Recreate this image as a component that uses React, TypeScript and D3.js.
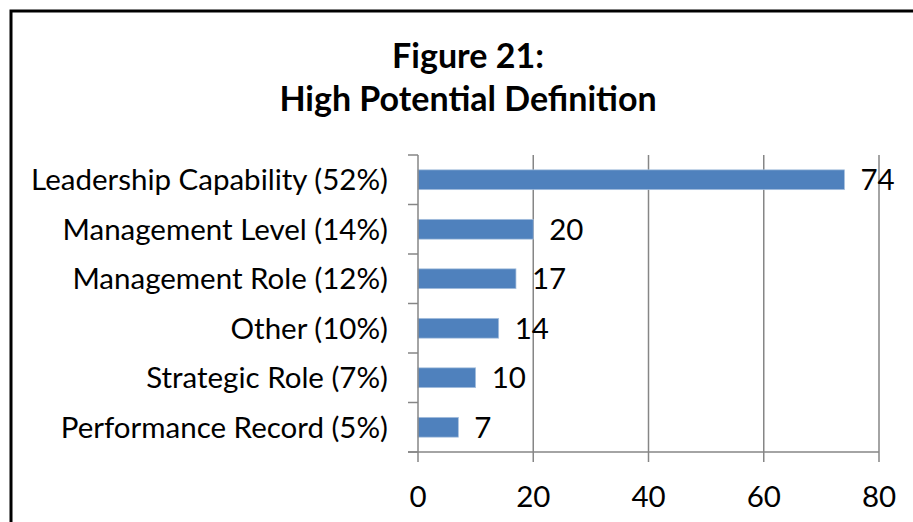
import * as d3 from "d3";

const categories = [
  "Leadership Capability (52%)",
  "Management Level (14%)",
  "Management Role (12%)",
  "Other (10%)",
  "Strategic Role (7%)",
  "Performance Record (5%)",
];
const values = [74, 20, 17, 14, 10, 7];
const xTicks = [0, 20, 40, 60, 80];
const titleLines = ["Figure 21:", "High Potential Definition"];

const W = 913;
const H = 522;
const FONT = "Lato, 'Open Sans', sans-serif";

export default function App() {
  const x = d3.scaleLinear().domain([0, 80]).range([418, 879]);
  const y = d3.scaleBand<string>().domain(categories).range([155, 452]).paddingInner(0.6).paddingOuter(0.3);
  const yEdges = d3.range(categories.length + 1).map((i) => 155 + (i * (452 - 155)) / categories.length);
  const grid = "#868686";

  return (
    <svg width={W} height={H} style={{ position: "absolute", left: 0, top: 0, background: "#fff" }} fontFamily={FONT}>
      <rect x={11} y={11} width={1000} height={1000} fill="none" stroke="#000" strokeWidth={3} />

      {titleLines.map((t, i) => (
        <text key={t} x={468} y={68 + i * 43} textAnchor="middle" fontSize={34} fontWeight="bold">
          {t}
        </text>
      ))}

      {/* vertical gridlines */}
      {xTicks.slice(1).map((t) => (
        <line key={t} x1={x(t)} x2={x(t)} y1={155} y2={462} stroke={grid} strokeWidth={1.5} />
      ))}

      {/* bars */}
      {values.map((v, i) => (
        <rect
          key={categories[i]}
          x={x(0)}
          y={y(categories[i])}
          width={x(v) - x(0)}
          height={y.bandwidth()}
          fill="#4F81BD"
          stroke="#A7C0DE"
          strokeWidth={0.75}
        />
      ))}

      {/* axes */}
      <line x1={x(0)} x2={x(0)} y1={155} y2={462} stroke={grid} strokeWidth={1.5} />
      <line x1={408} x2={x(80)} y1={452} y2={452} stroke={grid} strokeWidth={1.5} />
      {yEdges.map((e) => (
        <line key={e} x1={408} x2={x(0)} y1={e} y2={e} stroke={grid} strokeWidth={1.5} />
      ))}

      {/* category labels */}
      {categories.map((c) => (
        <text key={c} x={388} y={(y(c) ?? 0) + y.bandwidth() / 2} dy="0.35em" textAnchor="end" fontSize={29.5}>
          {c}
        </text>
      ))}

      {/* value labels */}
      {values.map((v, i) => (
        <text key={i} x={x(v) + 16} y={(y(categories[i]) ?? 0) + y.bandwidth() / 2} dy="0.35em" fontSize={29.5}>
          {v}
        </text>
      ))}

      {/* x tick labels */}
      {xTicks.map((t) => (
        <text key={t} x={x(t)} y={507} textAnchor="middle" fontSize={29.5}>
          {t}
        </text>
      ))}
    </svg>
  );
}
